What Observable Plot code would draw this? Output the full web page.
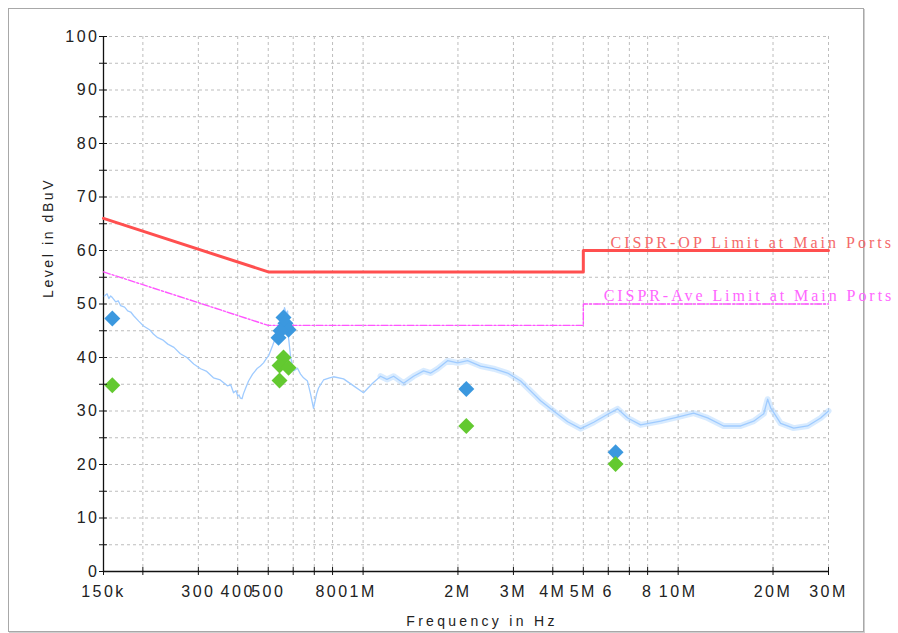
<!DOCTYPE html>
<html>
<head>
<meta charset="utf-8">
<script src="https://cdn.jsdelivr.net/npm/d3@7"></script>
<script src="https://cdn.jsdelivr.net/npm/@observablehq/plot@0.6"></script>
<style>
  html, body { margin: 0; padding: 0; background: #fff; }
  #wrap { position: relative; width: 898px; height: 633px; overflow: hidden; }
  #frame { position: absolute; left: 8px; top: 8px; width: 854px; height: 622px;
           border: 1px solid #a8a8a8; box-shadow: 1px 1px 0 #cfcfcf; }
  #chart { position: absolute; left: 0; top: 0; }
</style>
</head>
<body>
<div id="wrap"><div id="frame"></div><div id="chart"></div></div>
<script>
// Pre-scan trace: frequency (kHz) and level (dBuV)
const traceFreqKHz = [151, 154, 156, 158, 160, 164, 167, 170, 175, 179, 183, 187, 194, 201, 210, 216, 223, 231, 240, 251,
  263, 276, 290, 305, 319, 335, 352, 371, 380, 388, 395, 400, 404, 408, 413, 417, 424,
  433, 446, 462, 472, 483, 493, 501, 516, 527, 547, 556, 563, 570, 576, 580, 589, 602, 619, 633, 647, 666, 681, 696, 712,
  722, 749, 783, 806, 867, 933, 1003, 1072, 1136, 1190, 1250, 1344, 1446, 1556, 1640, 1724, 1854, 1995, 2146, 2360, 2595, 2875,
  3162, 3477, 3659, 4024, 4460, 4904, 5395, 5972, 6425, 6912, 7601, 8797, 10180, 11200, 12400, 13940, 15790, 17360, 18700, 19230, 19660,
  21150, 23260, 25760, 28330, 30000];
const traceLevel = [51.5, 51.9, 51.0, 51.5, 51.2, 50.4, 50.6, 49.7, 49.4, 48.7, 48.5, 47.8, 46.8, 45.9, 45.2, 44.4, 43.7, 43.3, 42.5, 41.9,
  40.7, 40.0, 38.8, 37.9, 37.4, 36.2, 35.8, 34.7, 34.9, 33.4, 33.8, 32.8, 33.0, 32.4, 32.3, 33.2, 34.3,
  35.6, 36.9, 38.0, 38.4, 39.0, 39.8, 40.3, 42.2, 43.7, 46.3, 47.2, 49.3, 48.2, 48.7, 43.7, 40.0, 37.5, 38.0, 36.9, 36.2, 35.6, 33.2, 30.5, 33.2,
  34.3, 35.8, 36.2, 36.4, 36.0, 34.7, 33.4, 35.2, 36.5, 35.9, 36.5, 35.2, 36.5, 37.5, 37.1, 37.9, 39.4, 39.0, 39.4, 38.4, 37.9, 37.1,
  35.6, 33.2, 31.9, 30.0, 28.0, 26.7, 27.9, 29.4, 30.4, 28.7, 27.4, 28.1, 29.0, 29.6, 28.7, 27.2, 27.2, 28.1, 29.5, 32.2, 30.6,
  27.7, 26.8, 27.2, 28.7, 30.0];

// Final measurements: quasi-peak and average (kHz, dBuV)
const qpFreqKHz = [160, 559, 567, 580, 547, 539, 2126, 6330];
const qpLevel = [47.3, 47.5, 46.4, 45.2, 45.0, 43.7, 34.1, 22.3];
const avFreqKHz = [160, 559, 543, 580, 543, 2126, 6330];
const avLevel = [34.8, 40.0, 38.5, 38.1, 35.7, 27.2, 20.1];

// CISPR limits
const limitFreqKHz = [150, 500, 5000, 5000, 30000];
const qpLimit = [66, 56, 56, 60, 60];
const avLimit = [56, 46, 46, 50, 50];
const qpLimitLabel = "CISPR-OP Limit at Main Ports";
const avLimitLabel = "CISPR-Ave Limit at Main Ports";

// Axes
const xTickKHz = [150, 200, 300, 400, 500, 600, 700, 800, 1000, 2000, 3000, 4000, 5000, 6000, 7000, 8000, 10000, 20000, 30000];
const xLabelKHz = [150, 300, 400, 500, 800, 1000, 2000, 3000, 4000, 5000, 6000, 8000, 10000, 20000, 30000];
const xLabelText = ["150k", "300", "400", "500", "800", "1M", "2M", "3M", "4M", "5M", "6", "8", "10M", "20M", "30M"];
const yTicks = [0, 5, 10, 15, 20, 25, 30, 35, 40, 45, 50, 55, 60, 65, 70, 75, 80, 85, 90, 95, 100];
const yLabels = [0, 10, 20, 30, 40, 50, 60, 70, 80, 90, 100];
const xTitle = "Frequency in Hz";
const yTitle = "Level in dBuV";

const trace = traceFreqKHz.map((f, i) => ({f, v: traceLevel[i]}));
const qp = qpFreqKHz.map((f, i) => ({f, v: qpLevel[i]}));
const av = avFreqKHz.map((f, i) => ({f, v: avLevel[i]}));
const qpLim = limitFreqKHz.map((f, i) => ({f, v: qpLimit[i]}));
const avLim = limitFreqKHz.map((f, i) => ({f, v: avLimit[i]}));
const xLabels = xLabelKHz.map((f, i) => ({f, t: xLabelText[i]}));

const gridStyle = {stroke: "#bdbdbd", strokeDasharray: "3,3", strokeWidth: 1};
const serif = "'Liberation Serif', 'Times New Roman', serif";

const chart = Plot.plot({
  width: 898,
  height: 633,
  marginLeft: 103,
  marginRight: 70,
  marginTop: 36,
  marginBottom: 62,
  style: "font-family: 'Liberation Sans', Arial, sans-serif; font-size: 16px; color: #222; background: transparent;",
  x: {type: "log", domain: [150, 30000]},
  y: {domain: [0, 100]},
  marks: [
    // dashed grid
    Plot.ruleY(yTicks.filter(d => d > 0), {...gridStyle}),
    Plot.ruleX(xTickKHz.filter(d => d > 150), {...gridStyle}),
    // axis lines
    Plot.ruleX([150], {stroke: "#111", strokeWidth: 1.3}),
    Plot.ruleY([0], {stroke: "#111", strokeWidth: 1.3}),
    // limit lines
    Plot.line(avLim, {x: "f", y: "v", stroke: "#ff55ff", strokeWidth: 1.4, strokeDasharray: "7,2,2,2"}),
    Plot.line(qpLim, {x: "f", y: "v", stroke: "#ff4f4f", strokeWidth: 3}),
    // pre-scan trace (noisy band above 1 MHz)
    Plot.line(trace.filter(d => d.f >= 1100), {x: "f", y: "v", stroke: "#a9d2ff", strokeWidth: 6, strokeOpacity: 0.45}),
    Plot.line(trace, {x: "f", y: "v", stroke: "#9fcbff", strokeWidth: 1.3}),
    // measurement points
    Plot.dot(qp, {x: "f", y: "v", symbol: "diamond2", r: 7.2, fill: "#3b98df", stroke: null}),
    Plot.dot(av, {x: "f", y: "v", symbol: "diamond2", r: 7.2, fill: "#63c930", stroke: null}),
    // limit labels
    Plot.text([qpLimitLabel], {x: 6100, y: 60, text: d => d, textAnchor: "start", lineAnchor: "bottom", dy: -3,
      fill: "#f46a6a", fontSize: 16, fontFamily: serif}),
    Plot.text([avLimitLabel], {x: 5800, y: 50, text: d => d, textAnchor: "start", lineAnchor: "bottom", dy: -3,
      fill: "#ff66ff", fontSize: 16, fontFamily: serif}),
    // tick marks crossing the axes
    Plot.axisY(yTicks, {tickSize: 8, dx: 4, text: null, label: null, stroke: "#111"}),
    Plot.axisX(xTickKHz, {tickSize: 8, dy: -4, text: null, label: null, stroke: "#111"}),
    // tick labels
    Plot.axisY(yLabels, {tickSize: 0, tickPadding: 4, label: null, fill: "#222", fontSize: 16}),
    Plot.text(xLabels, {x: "f", frameAnchor: "bottom", text: "t", dy: 14, lineAnchor: "top", fill: "#222", fontSize: 16}),
    // axis titles
    Plot.text([xTitle], {frameAnchor: "bottom", text: d => d, dx: 16, dy: 50, lineAnchor: "middle",
      fontSize: 14, fill: "#222"}),
    Plot.text([yTitle], {frameAnchor: "left", text: d => d, dx: -55, dy: -6, rotate: -90, lineAnchor: "middle",
      fontSize: 14, fill: "#222"})
  ]
});

document.getElementById("chart").appendChild(chart);

// letter spacing for the various text groups
const spacing = new Map([[qpLimitLabel, "3.0px"], [avLimitLabel, "2.95px"], [xTitle, "3.3px"], [yTitle, "2.6px"]]);
const tickTexts = new Set([...xLabelText, ...yLabels.map(String)]);
d3.select(chart).selectAll("text").each(function() {
  const t = this.textContent;
  if (spacing.has(t)) this.style.letterSpacing = spacing.get(t);
  else if (tickTexts.has(t)) this.style.letterSpacing = "2.5px";
});
</script>
</body>
</html>
